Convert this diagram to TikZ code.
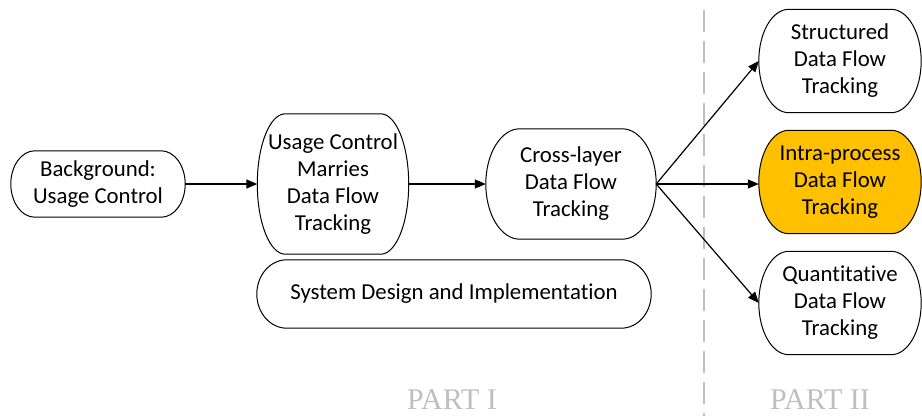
\documentclass[tikz,border=0pt]{standalone}
\usepackage{fontspec}
\setmainfont{Carlito}[Ligatures=NoCommon]
\newfontfamily\partfont{Liberation Serif}
\usetikzlibrary{arrows.meta,calc,backgrounds}
\definecolor{gold}{HTML}{FFC000}
\definecolor{partgray}{HTML}{BFBFBF}
% elliptic-end frame drawn around a node: #1 options, #2 node, #3 horizontal radius
\newcommand\ovalframe[3][]{%
  \begin{scope}[on background layer]
  \path[draw=black, line width=1pt, fill=white, #1]
    let \p1=(#2.north west), \p2=(#2.south east), \n1={(\y1-\y2)/2} in
    (\x1+#3,\y1) -- (\x2-#3,\y1)
    arc[start angle=90, end angle=-90, x radius=#3, y radius=\n1]
    -- (\x1+#3,\y2)
    arc[start angle=270, end angle=90, x radius=#3, y radius=\n1] -- cycle;
  \end{scope}}
\begin{document}
\begin{tikzpicture}[x=1pt,y=-1pt,
  box/.style={align=center, inner sep=0pt,
    font=\fontsize{22.8}{27}\selectfont},
  conn/.style={line width=1.2pt, -{Triangle[length=11pt,width=9pt]}},
  partlabel/.style={text=partgray, font=\partfont\fontsize{30}{30}\selectfont, anchor=base}]
\useasboundingbox (0,0) rectangle (922,416);
\begin{scope}[on background layer]
\draw[partgray, line width=1.5pt, dash pattern=on 22pt off 9pt] (704,10) -- (704,416);
\end{scope}
\node[box, minimum width=174pt, minimum height=66pt] (bg) at (98,184) {Background:\\Usage Control};
\node[box, minimum width=151pt, minimum height=140pt] (ucm) at (333,184) {Usage Control\\Marries\\Data Flow\\Tracking};
\node[box, minimum width=170pt, minimum height=110pt] (cl) at (571,184) {Cross-layer\\Data Flow\\Tracking};
\node[box, minimum width=394pt, minimum height=68pt] (sd) at (454,294) {System Design and Implementation};
\node[box, minimum width=162pt, minimum height=103pt] (st) at (840,61) {Structured\\Data Flow\\Tracking};
\node[box, minimum width=162pt, minimum height=103pt] (ip) at (840,182) {Intra-process\\Data Flow\\Tracking};
\node[box, minimum width=162pt, minimum height=103pt] (qt) at (840,303) {Quantitative\\Data Flow\\Tracking};
\ovalframe{bg}{24pt}
\ovalframe{ucm}{28pt}
\ovalframe{cl}{34pt}
\ovalframe{sd}{30pt}
\ovalframe{st}{30pt}
\ovalframe[fill=gold]{ip}{30pt}
\ovalframe{qt}{30pt}
\draw[conn] (bg.east) -- (ucm.west);
\draw[conn] (ucm.east) -- (cl.west);
\draw[conn] (cl.east) -- (st.west);
\draw[conn] (cl.east) -- (ip.west |- cl.east);
\draw[conn] (cl.east) -- (qt.west);
\node[partlabel] (p1) at (452,409) {PART I};
\node[partlabel] (p2) at (820,409) {PART II};
\end{tikzpicture}
\end{document}
